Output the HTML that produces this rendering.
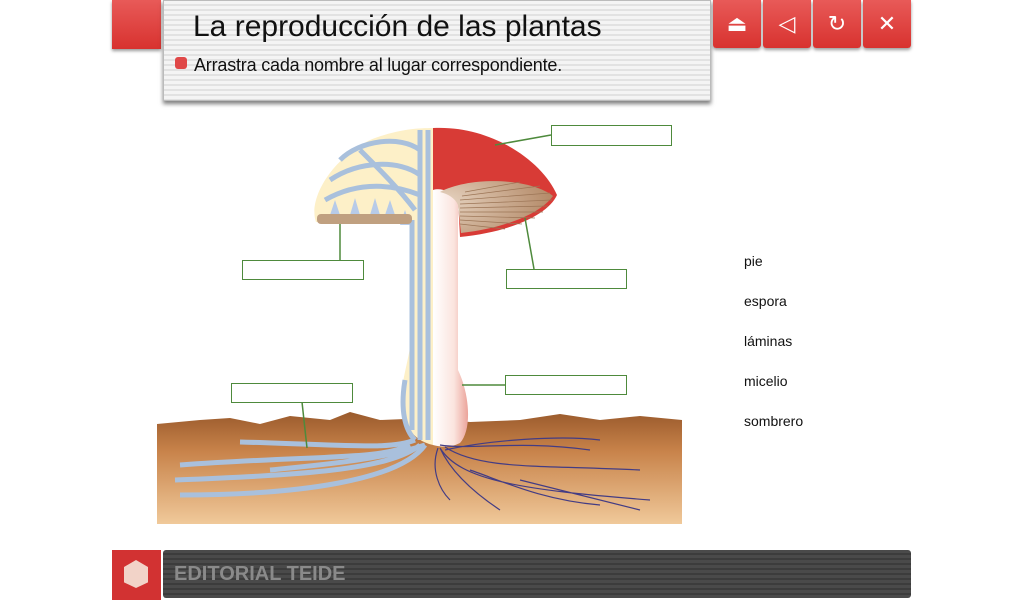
<!DOCTYPE html>
<html><head><meta charset="utf-8"><style>
body{margin:0;width:1024px;height:600px;background:#fff;position:relative;overflow:hidden;font-family:"Liberation Sans",sans-serif}
.a{position:absolute}
.red{background:linear-gradient(#e85a58,#d8322f);box-shadow:0 2px 3px rgba(0,0,0,.4)}
.btn{top:0;width:48px;height:48px;border-radius:0 0 3px 3px;color:#fff;font-size:22px;text-align:center;line-height:48px}
.box{border:1.5px solid #4e8a3c;background:#fff;box-sizing:border-box}
.w{left:744px;font-size:14px;color:#111}
</style></head><body>
<div class="a red" style="left:112px;top:0;width:49px;height:49px"></div>
<div class="a" style="left:163px;top:0;width:548px;height:101px;background:repeating-linear-gradient(#f4f4f4 0 3px,#e2e2e2 3px 5px);box-shadow:0 3px 4px rgba(0,0,0,.5);border:1px solid #bbb;box-sizing:border-box"></div>
<div class="a" style="left:193px;top:10px;font-size:30px;color:#111">La reproducción de las plantas</div>
<div class="a" style="left:175px;top:57px;width:12px;height:12px;border-radius:3px;background:#e04848"></div>
<div class="a" style="left:194px;top:55px;font-size:18px;color:#111;letter-spacing:-0.2px">Arrastra cada nombre al lugar correspondiente.</div>
<div class="a red btn" style="left:713px">⏏</div>
<div class="a red btn" style="left:763px">◁</div>
<div class="a red btn" style="left:813px">↻</div>
<div class="a red btn" style="left:863px">✕</div>

<svg class="a" style="left:0;top:0" width="1024" height="600">
<defs>
<linearGradient id="soil" x1="0" y1="0" x2="0" y2="1"><stop offset="0" stop-color="#9a5a2c"/><stop offset=".35" stop-color="#c8834a"/><stop offset="1" stop-color="#f0c99a"/></linearGradient>
<linearGradient id="stem" x1="0" y1="0" x2="1" y2="0"><stop offset="0" stop-color="#fff"/><stop offset=".6" stop-color="#fbe4de"/><stop offset="1" stop-color="#eba39a"/></linearGradient>
<radialGradient id="gill" cx="0" cy="0.4" r="1"><stop offset="0" stop-color="#e8d6c4"/><stop offset="1" stop-color="#b48a68"/></radialGradient>
</defs>
<path d="M157 424 L200 420 230 418 260 424 290 416 330 420 350 412 380 420 430 418 470 422 520 420 560 414 600 420 640 416 682 420 L682 524 157 524Z" fill="url(#soil)"/>
<!-- left half cap -->
<path d="M433 128 L433 445 C410 440 400 420 402 390 C404 370 412 350 413 320 L413 225 C390 220 350 225 316 222 C308 200 330 160 370 140 C395 130 415 128 433 128Z" fill="#fdf0c8"/>
<g stroke="#a9c0dc" stroke-width="5" fill="none">
<path d="M420 130 L420 440 M428 130 L428 440 M412 220 L412 430 M405 380 C400 410 405 430 415 440"/>
<path d="M340 160 C360 140 400 135 420 150 M330 180 C360 160 400 160 420 175 M325 200 C360 180 395 185 420 195 M360 150 C380 170 400 190 415 210"/>
<path d="M415 440 C390 450 350 445 240 442 M410 445 C380 460 320 455 180 465 M420 445 C390 470 300 475 175 480 M425 445 C400 480 300 495 180 495 M425 445 C380 460 320 465 270 470"/>
</g>
<g fill="#b7cbe8"><path d="M330 215 l5 -15 5 15z M350 215 l5 -17 5 17z M370 215 l5 -17 5 17z M385 215 l5 -15 5 15z M400 225 l5 -15 5 15z"/></g>
<rect x="317" y="214" width="95" height="10" fill="#c0a080" rx="4"/>
<!-- right half -->
<path d="M433 445 L433 190 L458 190 L458 370 C470 395 472 430 460 443 C450 448 440 447 433 445Z" fill="url(#stem)"/>
<path d="M433 128 C490 125 542 160 557 195 C548 215 510 232 460 237 L458 200 C450 190 440 188 433 190Z" fill="#d83b36"/>
<path d="M440 192 C470 176 530 178 553 196 C540 214 505 228 461 233 L458 205 C455 198 448 194 440 192Z" fill="url(#gill)"/>
<g stroke="#9c7556" stroke-width="0.7">
<path d="M460 200 L550 193 M460 204 L552 200 M460 208 L548 206 M460 212 L543 212 M460 216 L535 218 M460 220 L522 224 M460 224 L505 229 M462 196 L540 186 M465 192 L520 182"/>
</g>
<g stroke="#433c84" stroke-width="1.2" fill="none">
<path d="M440 445 C470 450 520 440 590 450 M445 447 C480 470 540 465 640 470 M440 448 C460 480 520 490 650 500 M440 448 C450 470 470 490 500 510 M438 448 C430 470 440 490 450 500 M445 450 C490 440 560 435 600 440 M470 470 C500 480 540 500 600 505 M520 480 C560 490 600 500 640 510"/>
</g>
<g stroke="#4e8a3c" stroke-width="1.5" fill="none">
<path d="M551 135 L495 145 M340 224 L340 260 M525 218 L534 269 M505 385 L462 385 M302 402 L307 448"/>
</g>
</svg>
<div class="a box" style="left:551px;top:125px;width:121px;height:21px"></div>
<div class="a box" style="left:242px;top:260px;width:122px;height:20px"></div>
<div class="a box" style="left:506px;top:269px;width:121px;height:20px"></div>
<div class="a box" style="left:505px;top:375px;width:122px;height:20px"></div>
<div class="a box" style="left:231px;top:383px;width:122px;height:20px"></div>
<div class="a w" style="top:253px">pie</div>
<div class="a w" style="top:293px">espora</div>
<div class="a w" style="top:333px">láminas</div>
<div class="a w" style="top:373px">micelio</div>
<div class="a w" style="top:413px">sombrero</div>

<div class="a" style="left:112px;top:550px;width:49px;height:50px;background:#d23232"></div>
<div class="a" style="left:124px;top:560px;width:24px;height:28px;background:#f2d3c8;clip-path:polygon(50% 0,100% 25%,100% 80%,50% 100%,0 80%,0 25%)"></div>
<div class="a" style="left:163px;top:550px;width:748px;height:48px;background:repeating-linear-gradient(#4a4a4a 0 3px,#3c3c3c 3px 5px);border-radius:3px"></div>
<div class="a" style="left:174px;top:563px;font-size:20px;font-weight:bold;color:#8a8a8a">EDITORIAL TEIDE</div>
</body></html>
